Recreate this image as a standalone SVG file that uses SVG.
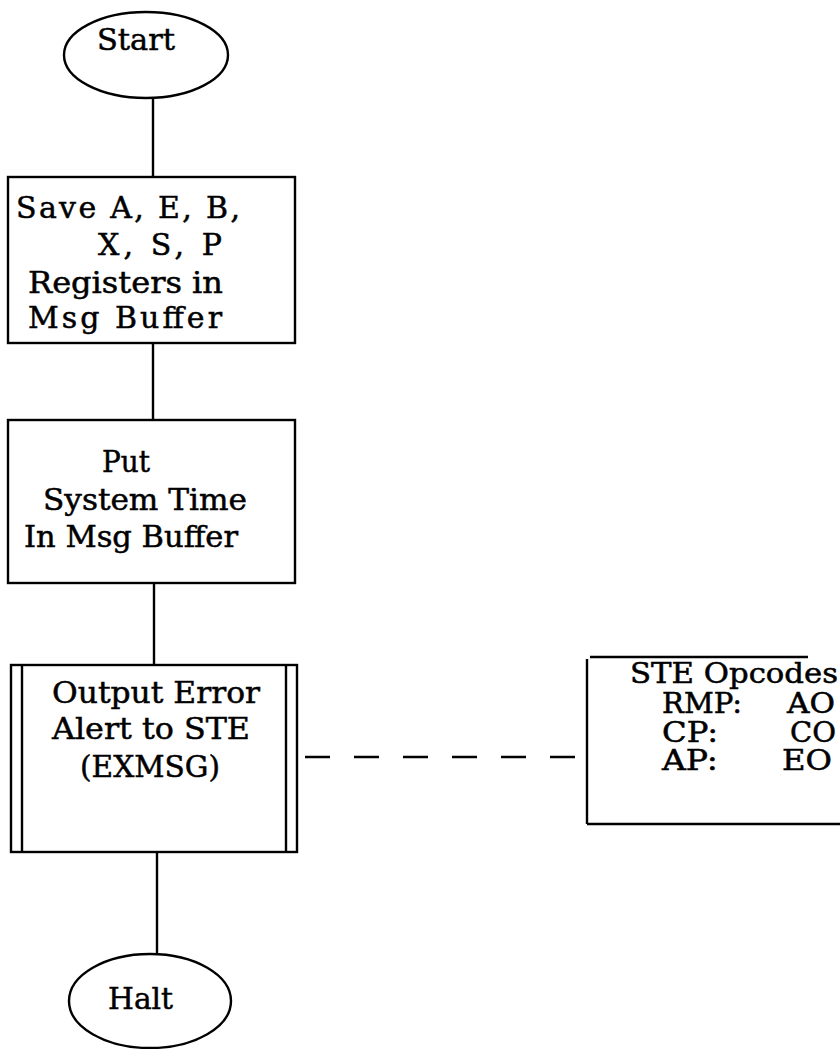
<svg xmlns="http://www.w3.org/2000/svg" width="840" height="1049" viewBox="0 0 840 1049">
<style>
.s{fill:none;stroke:#000;stroke-width:2.4}
.t{font-family:"DejaVu Serif","Liberation Serif",serif;font-size:30px;fill:#000;stroke:#000;stroke-width:0.5}
.u{font-family:"DejaVu Serif","Liberation Serif",serif;font-size:27px;fill:#000;stroke:#000;stroke-width:0.5}
.d{stroke:#000;stroke-width:2.4;stroke-dasharray:25 24;fill:none}
</style>
<rect width="840" height="1049" fill="#fff"/>
<g id="connectors">
<line class="s" x1="153" y1="98" x2="153" y2="177"/>
<line class="s" x1="153" y1="343" x2="153" y2="420"/>
<line class="s" x1="154" y1="583" x2="154" y2="665"/>
<line class="s" x1="157" y1="852" x2="157" y2="954"/>
<line class="d" x1="305" y1="757" x2="575" y2="757"/>
</g>
<g id="start">
<ellipse class="s" cx="146" cy="55" rx="82" ry="43"/>
<text class="t" x="97" y="50" textLength="78" lengthAdjust="spacingAndGlyphs">Start</text>
</g>
<g id="save">
<rect class="s" x="8" y="177" width="287" height="166"/>
<text class="t" x="16" y="218" textLength="224" lengthAdjust="spacing">Save A, E, B,</text>
<text class="t" x="98" y="255" textLength="124" lengthAdjust="spacing">X, S, P</text>
<text class="t" x="28" y="293" textLength="195" lengthAdjust="spacingAndGlyphs">Registers in</text>
<text class="t" x="28" y="328" textLength="194" lengthAdjust="spacing">Msg Buffer</text>
</g>
<g id="put">
<rect class="s" x="8" y="420" width="287" height="163"/>
<text class="t" x="102" y="472" textLength="48" lengthAdjust="spacingAndGlyphs">Put</text>
<text class="t" x="43" y="510" textLength="204" lengthAdjust="spacingAndGlyphs">System Time</text>
<text class="t" x="24" y="547" textLength="214" lengthAdjust="spacingAndGlyphs">In Msg Buffer</text>
</g>
<g id="output">
<rect class="s" x="11" y="665" width="286" height="187"/>
<line class="s" x1="22" y1="665" x2="22" y2="852"/>
<line class="s" x1="286" y1="665" x2="286" y2="852"/>
<text class="t" x="52" y="703" textLength="208" lengthAdjust="spacingAndGlyphs">Output Error</text>
<text class="t" x="52" y="739" textLength="198" lengthAdjust="spacingAndGlyphs">Alert to STE</text>
<text class="t" x="80" y="777" textLength="140" lengthAdjust="spacingAndGlyphs">(EXMSG)</text>
</g>
<g id="ste-opcodes">
<line class="s" x1="590" y1="657" x2="808" y2="657"/>
<line class="s" x1="587" y1="659" x2="587" y2="824"/>
<line class="s" x1="587" y1="824" x2="840" y2="824"/>
<text class="u" x="630" y="683" textLength="208" lengthAdjust="spacingAndGlyphs">STE Opcodes</text>
<text class="u" x="662" y="713" textLength="80" lengthAdjust="spacingAndGlyphs">RMP:</text>
<text class="u" x="787" y="713" textLength="48" lengthAdjust="spacingAndGlyphs">AO</text>
<text class="u" x="662" y="742" textLength="56" lengthAdjust="spacingAndGlyphs">CP:</text>
<text class="u" x="790" y="742" textLength="46" lengthAdjust="spacingAndGlyphs">CO</text>
<text class="u" x="662" y="770" textLength="56" lengthAdjust="spacingAndGlyphs">AP:</text>
<text class="u" x="782" y="770" textLength="50" lengthAdjust="spacingAndGlyphs">EO</text>
</g>
<g id="halt">
<ellipse class="s" cx="150" cy="1001" rx="81" ry="47"/>
<text class="t" x="108" y="1009" textLength="65" lengthAdjust="spacingAndGlyphs">Halt</text>
</g>
</svg>
